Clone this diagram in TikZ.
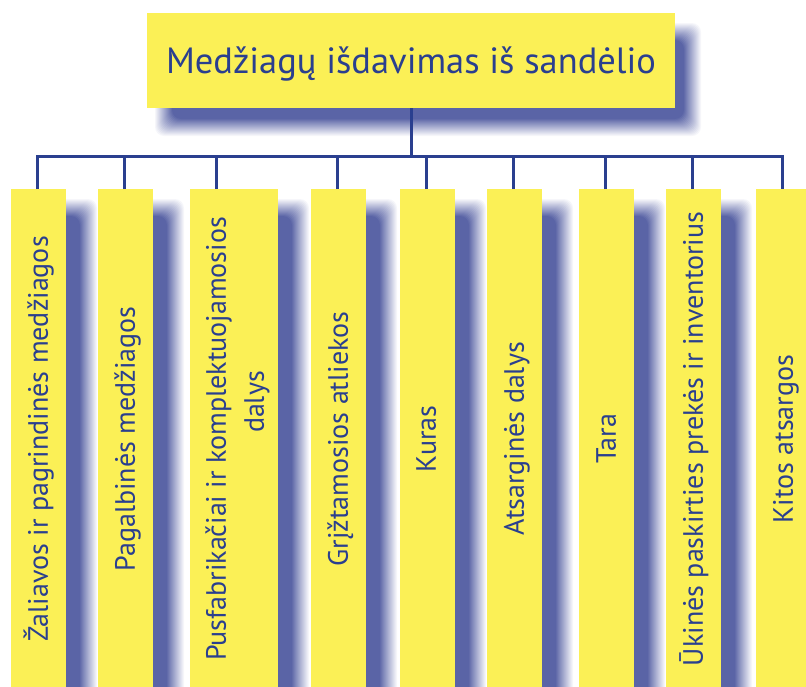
\documentclass[tikz,border=0pt]{standalone}
\usepackage{fontspec}
\setmainfont{PT Sans}
\definecolor{boxyellow}{HTML}{FBF056}
\definecolor{inkblue}{HTML}{2A3F8F}
\definecolor{shadeblue}{HTML}{5A64A6}

% soft drop shadow: a stack of rectangles whose opacities give a linear ramp
\newcommand\softshadow[4]{%
  \foreach \k in {1,...,18}{%
    \pgfmathsetmacro\shexp{10-\k}%
    \pgfmathsetmacro\shop{1/(19-\k)}%
    \fill[shadeblue, fill opacity=\shop, rounded corners=9pt]
      (#1-\shexp, #2-\shexp) rectangle (#3+\shexp, #4+\shexp);
  }%
}

\tikzset{
  titlebox/.style={fill=boxyellow, inner sep=0pt, minimum width=528pt,
    minimum height=95pt, text=inkblue, font=\fontsize{36.5}{44}\selectfont,
    text height=25.6pt, text depth=0pt},
  colbox/.style={fill=boxyellow, inner sep=0pt, anchor=north west,
    minimum height=500pt},
  coltext/.style={rotate=90, text=inkblue, inner sep=0pt,
    font=\fontsize{28}{38}\selectfont, text height=19.6pt, text depth=0pt},
  conn/.style={draw=inkblue, line width=3pt},
}

\begin{document}
\begin{tikzpicture}[x=1pt, y=-1pt]
  \useasboundingbox (0,0) rectangle (806,686);
  \clip (0,0) rectangle (806,686);

  % shadows
  \softshadow{164}{32}{692}{127}
  \foreach \l/\w in {11/55, 98/55, 190/88, 311/55, 400/55, 487/55, 579/55, 666/55, 756/55}{
    \softshadow{\l+22}{208}{\l+\w+22}{720}
  }

  % title
  \node[titlebox] (title) at (411,60.5) {Medžiagų išdavimas iš sandėlio};

  % columns
  \node[colbox, minimum width=55pt] (c1) at (11,189) {};
  \node[colbox, minimum width=55pt] (c2) at (98,189) {};
  \node[colbox, minimum width=88pt] (c3) at (190,189) {};
  \node[colbox, minimum width=55pt] (c4) at (311,189) {};
  \node[colbox, minimum width=55pt] (c5) at (400,189) {};
  \node[colbox, minimum width=55pt] (c6) at (487,189) {};
  \node[colbox, minimum width=55pt] (c7) at (579,189) {};
  \node[colbox, minimum width=55pt] (c8) at (666,189) {};
  \node[colbox, minimum width=55pt] (c9) at (756,189) {};

  % column labels
  \node[coltext] (t1) at (38,439) {Žaliavos ir pagrindinės medžiagos};
  \node[coltext] (t2) at (125,439) {Pagalbinės medžiagos};
  \node[coltext] (t3) at (216,439) {Pusfabrikačiai ir komplektuojamosios};
  \node[coltext] (t3b) at (254,402) {dalys};
  \node[coltext] (t4) at (338,439) {Grįžtamosios atliekos};
  \node[coltext] (t5) at (426,439) {Kuras};
  \node[coltext] (t6) at (514,439) {Atsarginės dalys};
  \node[coltext] (t7) at (606,439) {Tara};
  \node[coltext] (t8) at (693,439) {Ūkinės paskirties prekės ir inventorius};
  \node[coltext] (t9) at (783,439) {Kitos atsargos};

  % connectors
  \coordinate (bus) at (0,156);
  \foreach \i in {1,...,9}{
    \coordinate (d\i) at ([xshift=26pt]c\i.north west);
  }
  \draw[conn] (title.south) -- (title.south |- bus);
  \draw[conn] (d1) -- (d1 |- bus) -- (d9 |- bus) -- (d9);
  \foreach \i in {2,...,8}{
    \draw[conn] (d\i) -- (d\i |- bus);
  }
\end{tikzpicture}
\end{document}
